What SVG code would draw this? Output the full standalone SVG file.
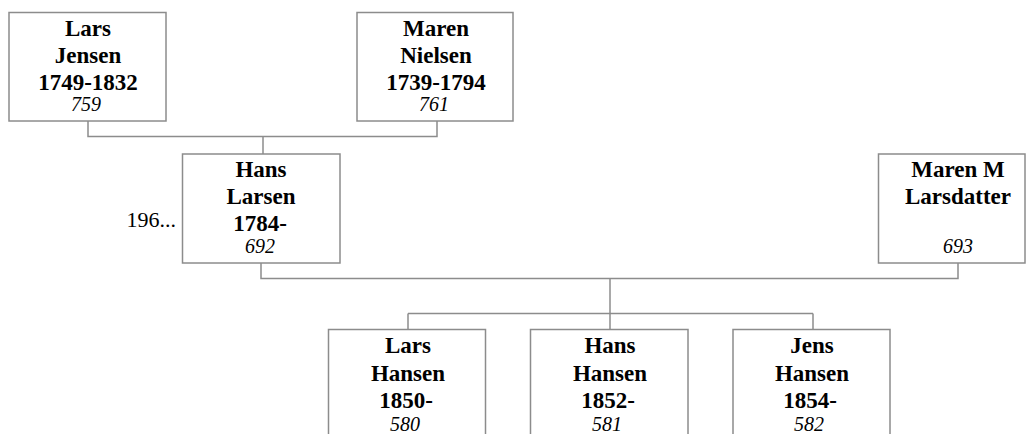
<svg xmlns="http://www.w3.org/2000/svg" width="1026" height="434" viewBox="0 0 1026 434">
<style>
.box{fill:#fff;stroke:#8c8c8c;stroke-width:1.5}
.con{fill:none;stroke:#8c8c8c;stroke-width:1.5}
.n{font-family:"Liberation Serif","Times New Roman",serif;font-weight:bold;font-size:23px;fill:#000;text-anchor:middle}
.id{font-family:"Liberation Serif","Times New Roman",serif;font-style:italic;font-size:20px;fill:#000;text-anchor:middle}
.lbl{font-family:"Liberation Serif","Times New Roman",serif;font-size:22px;fill:#000;text-anchor:end}
</style>
<rect width="1026" height="434" fill="#fff"/>
<g id="connectors">
<path class="con" d="M88,121 V136.5 H437 V121"/>
<path class="con" d="M263,136.5 V154"/>
<path class="con" d="M261,263 V278.5 H958 V263"/>
<path class="con" d="M610,278.5 V329"/>
<path class="con" d="M408,313.5 H813"/>
<path class="con" d="M408,313.5 V329"/>
<path class="con" d="M813,313.5 V329"/>
</g>
<g id="lars-jensen">
<rect class="box" x="9" y="12.5" width="157" height="108.5"/>
<text class="n" x="88" y="36">Lars</text>
<text class="n" x="88" y="63">Jensen</text>
<text class="n" x="88" y="90">1749-1832</text>
<text class="id" x="86" y="111">759</text>
</g>
<g id="maren-nielsen">
<rect class="box" x="357" y="12.5" width="156" height="108.5"/>
<text class="n" x="436" y="36">Maren</text>
<text class="n" x="436" y="63">Nielsen</text>
<text class="n" x="436" y="90">1739-1794</text>
<text class="id" x="434" y="111">761</text>
</g>
<g id="hans-larsen">
<rect class="box" x="182.5" y="154" width="157.5" height="109"/>
<text class="n" x="261" y="177">Hans</text>
<text class="n" x="261" y="204">Larsen</text>
<text class="n" x="260" y="231">1784-</text>
<text class="id" x="260" y="253">692</text>
<text class="lbl" x="176" y="227">196...</text>
</g>
<g id="maren-m-larsdatter">
<rect class="box" x="878.5" y="154" width="146.5" height="109"/>
<text class="n" x="958" y="177">Maren M</text>
<text class="n" x="958" y="204">Larsdatter</text>
<text class="id" x="958" y="253">693</text>
</g>
<g id="lars-hansen">
<rect class="box" x="328.5" y="329.5" width="157" height="120"/>
<text class="n" x="408" y="353">Lars</text>
<text class="n" x="408" y="381">Hansen</text>
<text class="n" x="406" y="408">1850-</text>
<text class="id" x="405" y="431">580</text>
</g>
<g id="hans-hansen">
<rect class="box" x="530.5" y="329.5" width="157.5" height="120"/>
<text class="n" x="610" y="353">Hans</text>
<text class="n" x="610" y="381">Hansen</text>
<text class="n" x="608" y="408">1852-</text>
<text class="id" x="607" y="431">581</text>
</g>
<g id="jens-hansen">
<rect class="box" x="733" y="329.5" width="157" height="120"/>
<text class="n" x="812" y="353">Jens</text>
<text class="n" x="812" y="381">Hansen</text>
<text class="n" x="810" y="408">1854-</text>
<text class="id" x="809" y="431">582</text>
</g>
</svg>
